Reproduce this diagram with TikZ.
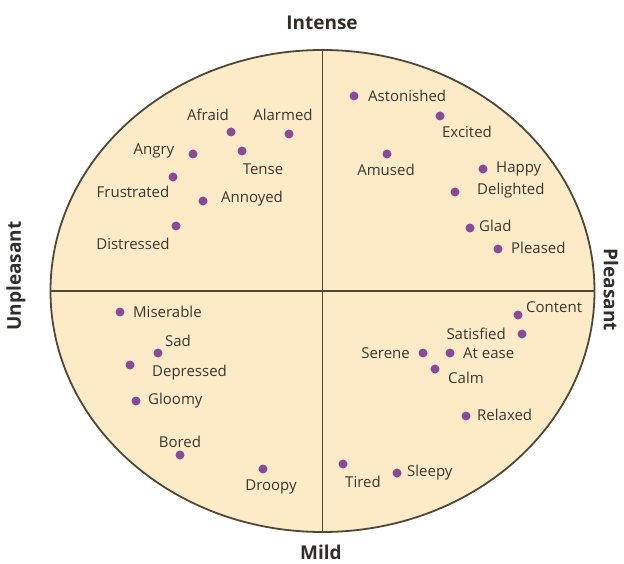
\documentclass[tikz,border=0pt]{standalone}
\usepackage{fontspec}
\setmainfont{Open Sans}
\definecolor{bgfill}{HTML}{FDEBC8}
\definecolor{edge}{HTML}{4D4838}
\definecolor{dotc}{HTML}{8A4A9A}
\definecolor{txt}{HTML}{3A3631}
\begin{document}
\begin{tikzpicture}[x=1pt,y=-1pt,
  dot/.style={circle,fill=dotc,inner sep=0pt,minimum size=9pt},
  lbl/.style={font=\fontsize{15}{17}\selectfont,text=txt,inner sep=0pt},
  axis/.style={font=\bfseries\fontsize{19}{21}\selectfont,text=txt!85!black,inner sep=0pt},
  divider/.style={draw=edge,line width=1.8pt}]
\useasboundingbox (0,0) rectangle (624,564);
\draw[fill=bgfill,draw=edge,line width=1.8pt] (322.5,291) ellipse [x radius=272pt, y radius=241pt];
\coordinate (top) at (322.5,50);
\coordinate (bot) at (322.5,532);
\coordinate (lft) at (50.5,291);
\coordinate (rgt) at (594.5,291);
\draw[divider] (top) -- (bot);
\draw[divider] (lft) -- (rgt);
% axis labels
\node[axis] (intense) at (322,23) {Intense};
\node[axis] (mild) at (321,552) {Mild};
\node[axis,rotate=90] (unpl) at (16,276) {Unpleasant};
\node[axis,rotate=-90] (pleas) at (611,290) {Pleasant};
% upper left
\node[dot] (d1) at (231,132) {}; \node[lbl] (l1) at (208,115) {Afraid};
\node[dot] (d2) at (289,134) {}; \node[lbl] (l2) at (283,115) {Alarmed};
\node[dot] (d3) at (193,154) {}; \node[lbl] (l3) at (154,151) {Angry};
\node[dot] (d4) at (242,151) {}; \node[lbl] (l4) at (263,169) {Tense};
\node[dot] (d5) at (173,177) {}; \node[lbl] (l5) at (133,192) {Frustrated};
\node[dot] (d6) at (203,201) {}; \node[lbl] (l6) at (252,199) {Annoyed};
\node[dot] (d7) at (176,226) {}; \node[lbl] (l7) at (133,244) {Distressed};
% upper right
\node[dot] (d8) at (354,96) {};  \node[lbl,anchor=west] (l8) at (368,96) {Astonished};
\node[dot] (d9) at (440,116) {}; \node[lbl] (l9) at (467,132) {Excited};
\node[dot] (d10) at (387,154) {}; \node[lbl] (l10) at (386,170) {Amused};
\node[dot] (d11) at (483,169) {}; \node[lbl,anchor=west] (l11) at (496,169) {Happy};
\node[dot] (d12) at (455,192) {}; \node[lbl,anchor=west] (l12) at (477,191) {Delighted};
\node[dot] (d13) at (470,228) {}; \node[lbl,anchor=west] (l13) at (479,226) {Glad};
\node[dot] (d14) at (498,249) {}; \node[lbl,anchor=west] (l14) at (511,248) {Pleased};
% lower left
\node[dot] (d15) at (120,312) {}; \node[lbl,anchor=west] (l15) at (133,312) {Miserable};
\node[dot] (d16) at (158,353) {}; \node[lbl] (l16) at (178,341) {Sad};
\node[dot] (d17) at (130,365) {}; \node[lbl,anchor=west] (l17) at (152,373) {Depressed};
\node[dot] (d18) at (136,401) {}; \node[lbl,anchor=west] (l18) at (148,401) {Gloomy};
\node[dot] (d19) at (180,455) {}; \node[lbl] (l19) at (180,442) {Bored};
\node[dot] (d20) at (263,469) {}; \node[lbl] (l20) at (271,487) {Droopy};
% lower right
\node[dot] (d21) at (518,315) {}; \node[lbl,anchor=west] (l21) at (526,307) {Content};
\node[dot] (d22) at (522,334) {}; \node[lbl,anchor=east] (l22) at (506,334) {Satisfied};
\node[dot] (d23) at (423,353) {}; \node[lbl,anchor=east] (l23) at (410,353) {Serene};
\node[dot] (d24) at (450,353) {}; \node[lbl,anchor=west] (l24) at (463,353) {At ease};
\node[dot] (d25) at (435,369) {}; \node[lbl] (l25) at (466,378) {Calm};
\node[dot] (d26) at (466,416) {}; \node[lbl,anchor=west] (l26) at (477,415) {Relaxed};
\node[dot] (d27) at (343,464) {}; \node[lbl] (l27) at (363,482) {Tired};
\node[dot] (d28) at (397,473) {}; \node[lbl,anchor=west] (l28) at (407,473) {Sleepy};
\end{tikzpicture}
\end{document}
